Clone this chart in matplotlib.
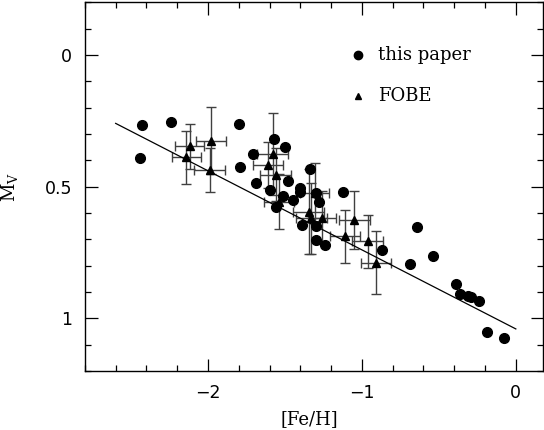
import numpy as np
import matplotlib
matplotlib.use("Agg")
import matplotlib.pyplot as plt
from matplotlib.ticker import MultipleLocator

plt.rcParams['mathtext.fontset'] = 'dejavuserif'

# this paper (filled circles)
feh_paper = [-2.43, -2.24, -2.44, -1.80, -1.79, -1.71, -1.69, -1.60, -1.57, -1.50,
             -1.48, -1.51, -1.45, -1.56, -1.34, -1.40, -1.40, -1.30, -1.28, -1.12,
             -1.39, -1.30, -1.30, -1.24, -0.87, -0.69, -0.64, -0.54, -0.39, -0.36,
             -0.31, -0.29, -0.24, -0.19, -0.08]
mv_paper = [0.265, 0.254, 0.391, 0.261, 0.424, 0.376, 0.486, 0.514, 0.319, 0.348,
            0.477, 0.537, 0.550, 0.577, 0.433, 0.505, 0.521, 0.526, 0.560, 0.522,
            0.647, 0.648, 0.702, 0.721, 0.741, 0.794, 0.652, 0.762, 0.870, 0.907,
            0.914, 0.920, 0.934, 1.050, 1.074]

# FOBE (triangles with error bars)
feh_fobe = [-2.12, -2.14, -1.98, -1.99, -1.61, -1.58, -1.56, -1.54,
            -1.345, -1.33, -1.305, -1.26, -1.11, -1.05, -0.962, -0.91]
mv_fobe = [0.347, 0.389, 0.326, 0.437, 0.419, 0.376, 0.455, 0.557,
           0.595, 0.620, 0.526, 0.618, 0.688, 0.627, 0.708, 0.789]
feh_err = [0.095, 0.097, 0.10, 0.103, 0.10, 0.103, 0.10, 0.097,
           0.10, 0.10, 0.094, 0.09, 0.097, 0.10, 0.10, 0.097]
mv_err = [0.085, 0.10, 0.127, 0.085, 0.087, 0.154, 0.10, 0.105,
          0.16, 0.135, 0.115, 0.10, 0.10, 0.11, 0.10, 0.12]

# linear fit M_V = a + b [Fe/H]
fit_a, fit_b = 1.04, 0.30
fit_range = [-2.6, 0.0]

fig = plt.figure(figsize=(5.44, 4.30), dpi=100)
ax = fig.add_axes([0.156, 0.137, 0.842, 0.858])

ax.errorbar(feh_fobe, mv_fobe, xerr=feh_err, yerr=mv_err, fmt='none',
            ecolor='0.25', elinewidth=1.0, capsize=3.5, capthick=1.0, zorder=2)
ax.plot(feh_fobe, mv_fobe, '^', color='black', ms=6, zorder=3)
ax.plot(feh_paper, mv_paper, 'o', color='black', ms=7, zorder=3)

xf = np.array(fit_range)
ax.plot(xf, fit_a + fit_b * xf, '-', color='black', lw=0.9, zorder=2)

# legend drawn by hand
ax.plot([0.596], [0.856], 'o', color='black', ms=6, transform=ax.transAxes)
ax.text(0.64, 0.856, 'this paper', transform=ax.transAxes, va='center',
        fontsize=13, family='DejaVu Serif')
ax.plot([0.596], [0.745], '^', color='black', ms=5, transform=ax.transAxes)
ax.text(0.64, 0.745, 'FOBE', transform=ax.transAxes, va='center',
        fontsize=13, family='DejaVu Serif')

ax.set_xlim(-2.8, 0.176)
ax.set_ylim(1.2, -0.2)
ax.xaxis.set_major_locator(MultipleLocator(1))
ax.xaxis.set_minor_locator(MultipleLocator(0.2))
ax.yaxis.set_major_locator(MultipleLocator(0.5))
ax.yaxis.set_minor_locator(MultipleLocator(0.1))
ax.set_xticks([-2, -1, 0])
ax.set_xticklabels(['\u22122', '\u22121', '0'])
ax.set_yticks([0, 0.5, 1])
ax.set_yticklabels(['0', '0.5', '1'])

ax.tick_params(which='both', direction='in', top=True, right=True,
               labelsize=12.5, pad=9, width=0.9)
ax.tick_params(which='major', length=9)
ax.tick_params(which='minor', length=4.5)
for s in ax.spines.values():
    s.set_linewidth(1.0)

ax.set_xlabel('[Fe/H]', fontsize=13, family='DejaVu Serif')
ax.set_ylabel(r'M$_{\rm V}$', fontsize=13, family='DejaVu Serif')
ax.xaxis.set_label_coords(0.49, -0.105)
ax.yaxis.set_label_coords(-0.142, 0.5)

fig.savefig('out.png', dpi=100)
